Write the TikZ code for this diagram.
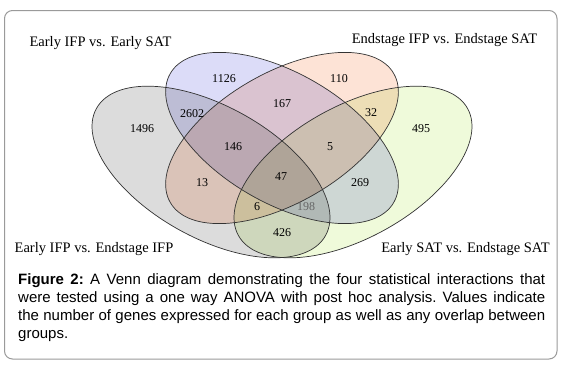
\documentclass[tikz,border=0pt]{standalone}
\usepackage{fontspec}
\setmainfont{Liberation Serif}
\newfontfamily\capfont{Liberation Sans}
\usetikzlibrary{calc}
\definecolor{cgray}{HTML}{DCDCDC}
\definecolor{cblue}{HTML}{DCDCF8}
\definecolor{corange}{HTML}{FDE3D6}
\definecolor{cgreen}{HTML}{EFFADA}
\definecolor{cline}{HTML}{333333}
\definecolor{cbox}{HTML}{9A9A9A}
\begin{document}
\begin{tikzpicture}[x=1pt,y=-1pt,
  num/.style={font=\fontsize{12}{14}\selectfont, inner sep=0pt},
  lbl/.style={font=\fontsize{14.5}{17}\selectfont, inner sep=0pt, anchor=base},
  venn/.style={draw=cline, line width=0.7pt}]
\useasboundingbox (0,0) rectangle (562,364);
\fill[white] (0,0) rectangle (562,364);
\draw[draw=cbox, line width=1pt, rounded corners=8pt] (4.5,10.5) rectangle (557,359);
% filled sets
\begin{scope}[blend group=multiply]
  \fill[cgray, rotate around={-29:(211,172)}] (211,172) ellipse [x radius=131pt, y radius=66pt];
  \fill[cgreen, rotate around={29:(353,172)}] (353,172) ellipse [x radius=131pt, y radius=66pt];
  \fill[cblue, rotate around={-30:(282,138)}] (282,138) ellipse [x radius=129pt, y radius=65pt];
  \fill[corange, rotate around={30:(282,138)}] (282,138) ellipse [x radius=129pt, y radius=65pt];
\end{scope}
% outlines
\draw[venn, rotate around={-29:(211,172)}] (211,172) ellipse [x radius=131pt, y radius=66pt];
\draw[venn, rotate around={29:(353,172)}] (353,172) ellipse [x radius=131pt, y radius=66pt];
\draw[venn, rotate around={-30:(282,138)}] (282,138) ellipse [x radius=129pt, y radius=65pt];
\draw[venn, rotate around={30:(282,138)}] (282,138) ellipse [x radius=129pt, y radius=65pt];
% set labels
\node[lbl] (lblA) at (100.5,46) {Early IFP vs. Early SAT};
\node[lbl] (lblB) at (444.5,43) {Endstage IFP vs. Endstage SAT};
\node[lbl] (lblC) at (94,252.5) {Early IFP vs. Endstage IFP};
\node[lbl] (lblD) at (465.5,252.5) {Early SAT vs. Endstage SAT};
% region counts
\node[num] (n1126) at (224,79) {1126};
\node[num] (n110) at (339,79) {110};
\node[num] (n167) at (282,104) {167};
\node[num] (n2602) at (192,114) {2602};
\node[num] (n32) at (371,113) {32};
\node[num] (n1496) at (142,129) {1496};
\node[num] (n495) at (421,129) {495};
\node[num] (n146) at (233,147) {146};
\node[num] (n5) at (330,147) {5};
\node[num] (n47) at (281,177) {47};
\node[num] (n13) at (202,183) {13};
\node[num] (n269) at (360,183) {269};
\node[num] (n6) at (257,207) {6};
\node[num, text=black!60] (n198) at (306,207) {198};
\node[num] (n426) at (282,233) {426};
% caption
\node[anchor=base west, inner sep=0pt] (cap) at (18,284) {\parbox[t]{527pt}{\capfont\fontsize{15}{18.3}\selectfont\hyphenpenalty=10000\frenchspacing
\textbf{Figure 2:} A Venn diagram demonstrating the four statistical interactions that\linebreak
were tested using a one way ANOVA with post hoc analysis. Values indicate\linebreak
the number of genes expressed for each group as well as any overlap between\linebreak
groups.}};
\end{tikzpicture}
\end{document}
